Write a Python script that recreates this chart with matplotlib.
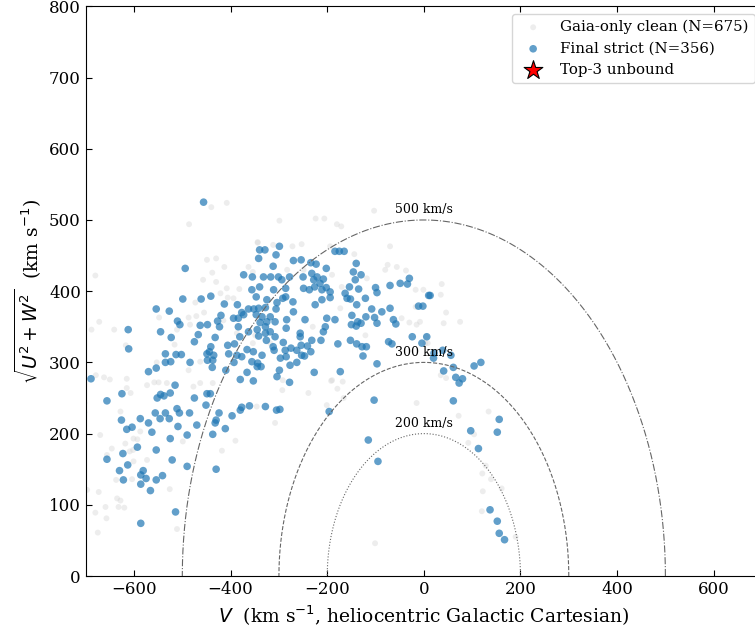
import numpy as np
import matplotlib
matplotlib.use("Agg")
import matplotlib.pyplot as plt

# Toomre diagram: V against sqrt(U^2 + W^2), heliocentric, km/s

# Gaia-only clean sample (background)
gaia_v = [-440, -408, -486, -680, -449, -430, -413, -438, -457, -430, -408, -421, -382, -363,
          -354, -344, -672, -688, -641, -548, -473, -455, -484, -471, -406, -394, -617, -516,
          -553, -487, -463, -679, -662, -650, -615, -558, -532, -477, -437, -511, -415, -487,
          -387, -615, -607, -573, -549, -463, -628, -587, -601, -593, -618, -609, -602, -656,
          -646, -670, -573, -601, -637, -604, -697, -673, -635, -628, -632, -620, -659, -680,
          -657, -675, -526, -511, -390, -418, -499, -103, -299, -224, -206, -180, -171, -344,
          -312, -272, -253, -194, -144, -70, -75, -80, -56, -37, -118, -1, -17, -17,
          -15, 5, 3, -30, -46, -173, -170, -190, -230, -121, -249, -283, -318, -349,
          -354, -190, -168, -292, 37, 35, 46, 41, 75, -8, 8, 46, 35, 134,
          72, 104, 92, 128, 121, 139, 161, 122, 120, 190, -293, -239, -192, -179,
          -166, -201, -346, -308, -15, -101]
gaia_uw = [518, 524, 494, 422, 444, 446, 434, 426, 416, 413, 404, 397, 403, 434,
           427, 468, 357, 346, 346, 363, 384, 370, 353, 365, 391, 390, 324, 325,
           300, 289, 301, 282, 279, 276, 277, 272, 271, 266, 271, 346, 359, 363,
           341, 264, 257, 268, 272, 271, 231, 203, 193, 192, 186, 175, 177, 170,
           179, 198, 163, 161, 135, 136, 121, 118, 109, 106, 97, 96, 97, 89,
           81, 61, 122, 66, 190, 176, 189, 513, 499, 502, 502, 494, 491, 469,
           465, 463, 466, 463, 452, 463, 437, 430, 434, 429, 418, 402, 402, 378,
           353, 336, 327, 356, 362, 376, 406, 423, 350, 338, 430, 430, 327, 338,
           327, 275, 273, 275, 410, 395, 370, 355, 357, 357, 327, 278, 282, 231,
           225, 199, 187, 155, 144, 136, 123, 119, 91, 55, 261, 257, 274, 263,
           250, 240, 238, 215, 243, 46]

# final strict sample
final_v = [-456, -494, -499, -461, -441, -554, -527, -510, -505, -612, -545, -611, -523, -475,
           -467, -463, -448, -432, -427, -423, -420, -413, -441, -444, -435, -448, -437, -438,
           -449, -406, -404, -392, -387, -377, -393, -410, -535, -513, -502, -524, -535, -484,
           -570, -554, -689, -515, -386, -377, -384, -394, -373, -363, -352, -373, -355, -342,
           -340, -356, -384, -381, -363, -345, -342, -366, -353, -356, -345, -366, -380, -353,
           -625, -656, -705, -705, -552, -545, -538, -525, -475, -449, -442, -451, -511, -506,
           -485, -556, -535, -546, -527, -587, -626, -615, -604, -570, -563, -509, -470, -490,
           -525, -593, -554, -623, -656, -613, -521, -490, -630, -581, -622, -586, -575, -554,
           -541, -586, -566, -430, -437, -432, -430, -424, -411, -397, -380, -377, -361, -514,
           -586, -329, -299, -306, -312, -270, -254, -234, -223, -202, -184, -175, -165, -140,
           -146, -130, -142, -154, -135, -121, -100, -97, -70, -49, -30, -34, 10, -11,
           -2, -70, -87, -63, -58, -97, -102, -120, -108, -152, -163, -159, -139, -149,
           -137, -130, -140, -150, -152, -139, -128, -119, -126, -73, -66, -24, 6, -97,
           -178, -184, -204, -208, -213, -232, -241, -254, -256, -246, -263, -234, -247, -275,
           -291, -284, -285, -270, -271, -286, -292, -306, -304, -325, -328, -342, -347, -335,
           -318, -308, -325, -339, -328, -318, -347, -340, -332, -317, -301, -294, -286, -278,
           -250, -249, -237, -228, -226, -215, -211, -202, -194, -194, -211, -225, -232, -221,
           -208, -311, -328, -326, -308, -312, -310, -287, -297, -285, -277, -263, -253, -227,
           -173, -335, -337, -344, -299, -304, -278, -201, -256, 13, 21, 39, 20, 41,
           61, 56, 104, 118, 66, 80, 73, -4, 61, 156, 97, 152, 113, 137,
           152, 156, 167, -328, -305, -298, -103, -196, -115, -95]
final_uw = [525, 432, 389, 389, 393, 375, 372, 358, 353, 346, 343, 319, 335, 329,
            339, 352, 353, 335, 358, 350, 366, 382, 322, 315, 310, 303, 303, 293,
            312, 324, 312, 326, 310, 308, 300, 289, 312, 311, 311, 301, 300, 300,
            287, 292, 277, 268, 381, 370, 362, 362, 367, 375, 375, 423, 420, 446,
            458, 402, 350, 336, 343, 346, 337, 318, 315, 301, 294, 286, 276, 274,
            256, 246, 243, 230, 250, 255, 253, 257, 250, 256, 256, 240, 235, 229,
            229, 229, 229, 221, 221, 221, 219, 206, 209, 215, 202, 210, 212, 198,
            193, 181, 177, 172, 164, 156, 163, 154, 148, 148, 135, 142, 137, 135,
            141, 129, 120, 150, 199, 215, 219, 229, 207, 225, 233, 237, 239, 90,
            74, 458, 463, 451, 435, 443, 444, 440, 438, 432, 456, 456, 456, 439,
            427, 423, 416, 406, 403, 390, 405, 398, 408, 411, 418, 410, 394, 379,
            379, 376, 371, 360, 354, 355, 363, 364, 375, 389, 397, 390, 381, 366,
            357, 355, 351, 353, 331, 326, 322, 322, 309, 329, 326, 336, 336, 298,
            326, 360, 350, 343, 331, 331, 323, 324, 341, 360, 317, 315, 309, 320,
            328, 360, 348, 371, 385, 392, 390, 375, 384, 388, 377, 376, 367, 364,
            364, 357, 357, 356, 350, 343, 392, 406, 420, 420, 420, 416, 404, 420,
            420, 404, 402, 416, 406, 411, 402, 405, 399, 391, 388, 381, 425, 420,
            417, 402, 341, 331, 336, 322, 317, 317, 306, 308, 296, 300, 310, 286,
            287, 310, 294, 299, 289, 280, 272, 362, 336, 394, 313, 317, 306, 288,
            293, 310, 295, 300, 279, 277, 271, 327, 246, 220, 204, 202, 179, 93,
            77, 60, 51, 238, 233, 234, 247, 231, 191, 161]

# constant total-velocity reference curves
circle_speeds = [200, 300, 500]
circle_styles = [":", "--", "-."]

plt.rcParams["font.family"] = "DejaVu Serif"
plt.rcParams["mathtext.fontset"] = "dejavusans"

fig = plt.figure(figsize=(7.55, 6.33), dpi=100)
ax = fig.add_axes([0.1135, 0.090, 0.8958, 0.900])

ax.scatter(gaia_v, gaia_uw, s=18, color="lightgray", alpha=0.4, edgecolors="none",
           label="Gaia-only clean (N=675)", zorder=1)
ax.scatter(final_v, final_uw, s=30, color="tab:blue", alpha=0.7, edgecolors="none",
           label="Final strict (N=356)", zorder=2)
ax.scatter([], [], marker="*", s=200, color="red", edgecolors="black", linewidths=0.8,
           label="Top-3 unbound", zorder=4)

theta = np.linspace(0, np.pi, 400)
for r, ls in zip(circle_speeds, circle_styles):
    ax.plot(r * np.cos(theta), r * np.sin(theta), ls=ls, color="0.4", lw=0.8, zorder=3)
    ax.text(0, r + 5, f"{r} km/s", ha="center", va="bottom", fontsize=9)

ax.set_xlim(-700, 700)
ax.set_ylim(0, 800)
ax.set_xticks(range(-600, 700, 200))
ax.set_yticks(range(0, 900, 100))
ax.tick_params(direction="in", top=True, right=True, labelsize=12, length=4.5)

ax.set_xlabel(r"$V$  (km s$^{-1}$, heliocentric Galactic Cartesian)", fontsize=13.5)
ax.set_ylabel(r"$\sqrt{U^2+W^2}$  (km s$^{-1}$)", fontsize=13.5)

ax.legend(loc="upper right", fontsize=10.8)

fig.savefig("out.png", dpi=100)
